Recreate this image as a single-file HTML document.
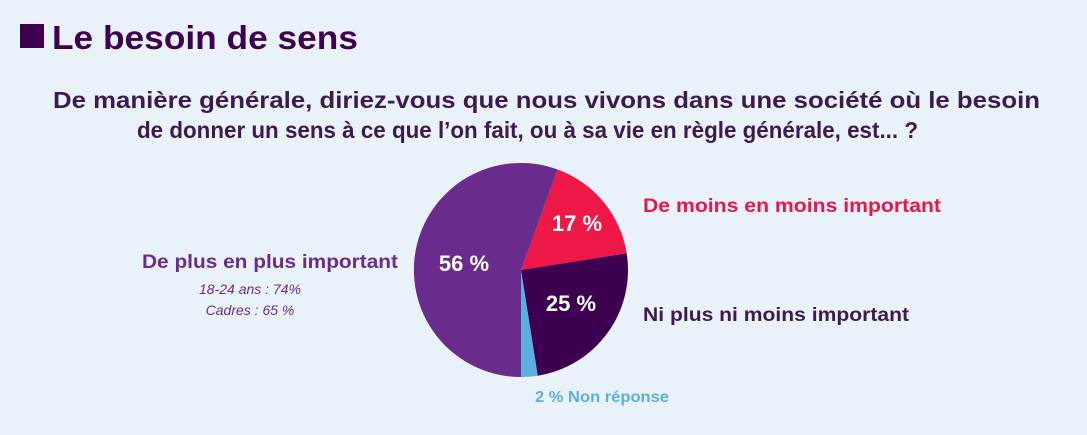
<!DOCTYPE html>
<html><head><meta charset="utf-8"><style>
html,body{margin:0;padding:0;background:#eaf2f9;}
svg{display:block;font-family:"Liberation Sans",sans-serif;}
</style></head><body>
<svg width="1087" height="435" viewBox="0 0 1087 435">
<rect width="1087" height="435" fill="#eaf2f9"/>
<rect x="20" y="24" width="24" height="24" fill="#3f0050"/>
<text x="52" y="49" font-size="33" font-weight="bold" fill="#3f0050" textLength="306" lengthAdjust="spacingAndGlyphs">Le besoin de sens</text>
<text x="53" y="108" font-size="23" font-weight="bold" fill="#3d1a4f" textLength="987" lengthAdjust="spacingAndGlyphs">De manière générale, diriez-vous que nous vivons dans une société où le besoin</text>
<text x="137" y="138" font-size="23" font-weight="bold" fill="#3d1a4f" textLength="781" lengthAdjust="spacingAndGlyphs">de donner un sens à ce que l’on fait, ou à sa vie en règle générale, est... ?</text>
<path d="M521,270 L557.6,169.5 A107,107 0 0 1 626.7,253.3 Z" fill="#ee1846"/>
<path d="M521,270 L626.7,253.3 A107,107 0 0 1 537.7,375.7 Z" fill="#3d0050"/>
<path d="M521,270 L537.7,375.7 A107,107 0 0 1 521,377 Z" fill="#5aaee0"/>
<path d="M521,270 L521,377 A107,107 0 1 1 557.6,169.5 Z" fill="#6a2c8c"/>
<g font-size="22" font-weight="bold" fill="#fff" text-anchor="middle">
<text x="577" y="231">17 %</text>
<text x="464" y="271">56 %</text>
<text x="571" y="311">25 %</text>
</g>
<text x="643" y="212" font-size="19" font-weight="bold" fill="#e8174a" textLength="298" lengthAdjust="spacingAndGlyphs">De moins en moins important</text>
<text x="643" y="321" font-size="19" font-weight="bold" fill="#3d1a4f" textLength="266" lengthAdjust="spacingAndGlyphs">Ni plus ni moins important</text>
<text x="142" y="268" font-size="19" font-weight="bold" fill="#6a2c8c" textLength="256" lengthAdjust="spacingAndGlyphs">De plus en plus important</text>
<text x="250" y="294" font-size="14" font-style="italic" fill="#6a2c8c" text-anchor="middle">18-24 ans : 74%</text>
<text x="250" y="315" font-size="14" font-style="italic" fill="#6a2c8c" text-anchor="middle">Cadres : 65 %</text>
<text x="535" y="402" font-size="16" font-weight="bold" fill="#5aaee0" textLength="134" lengthAdjust="spacingAndGlyphs">2 % Non réponse</text>
</svg>
</body></html>
